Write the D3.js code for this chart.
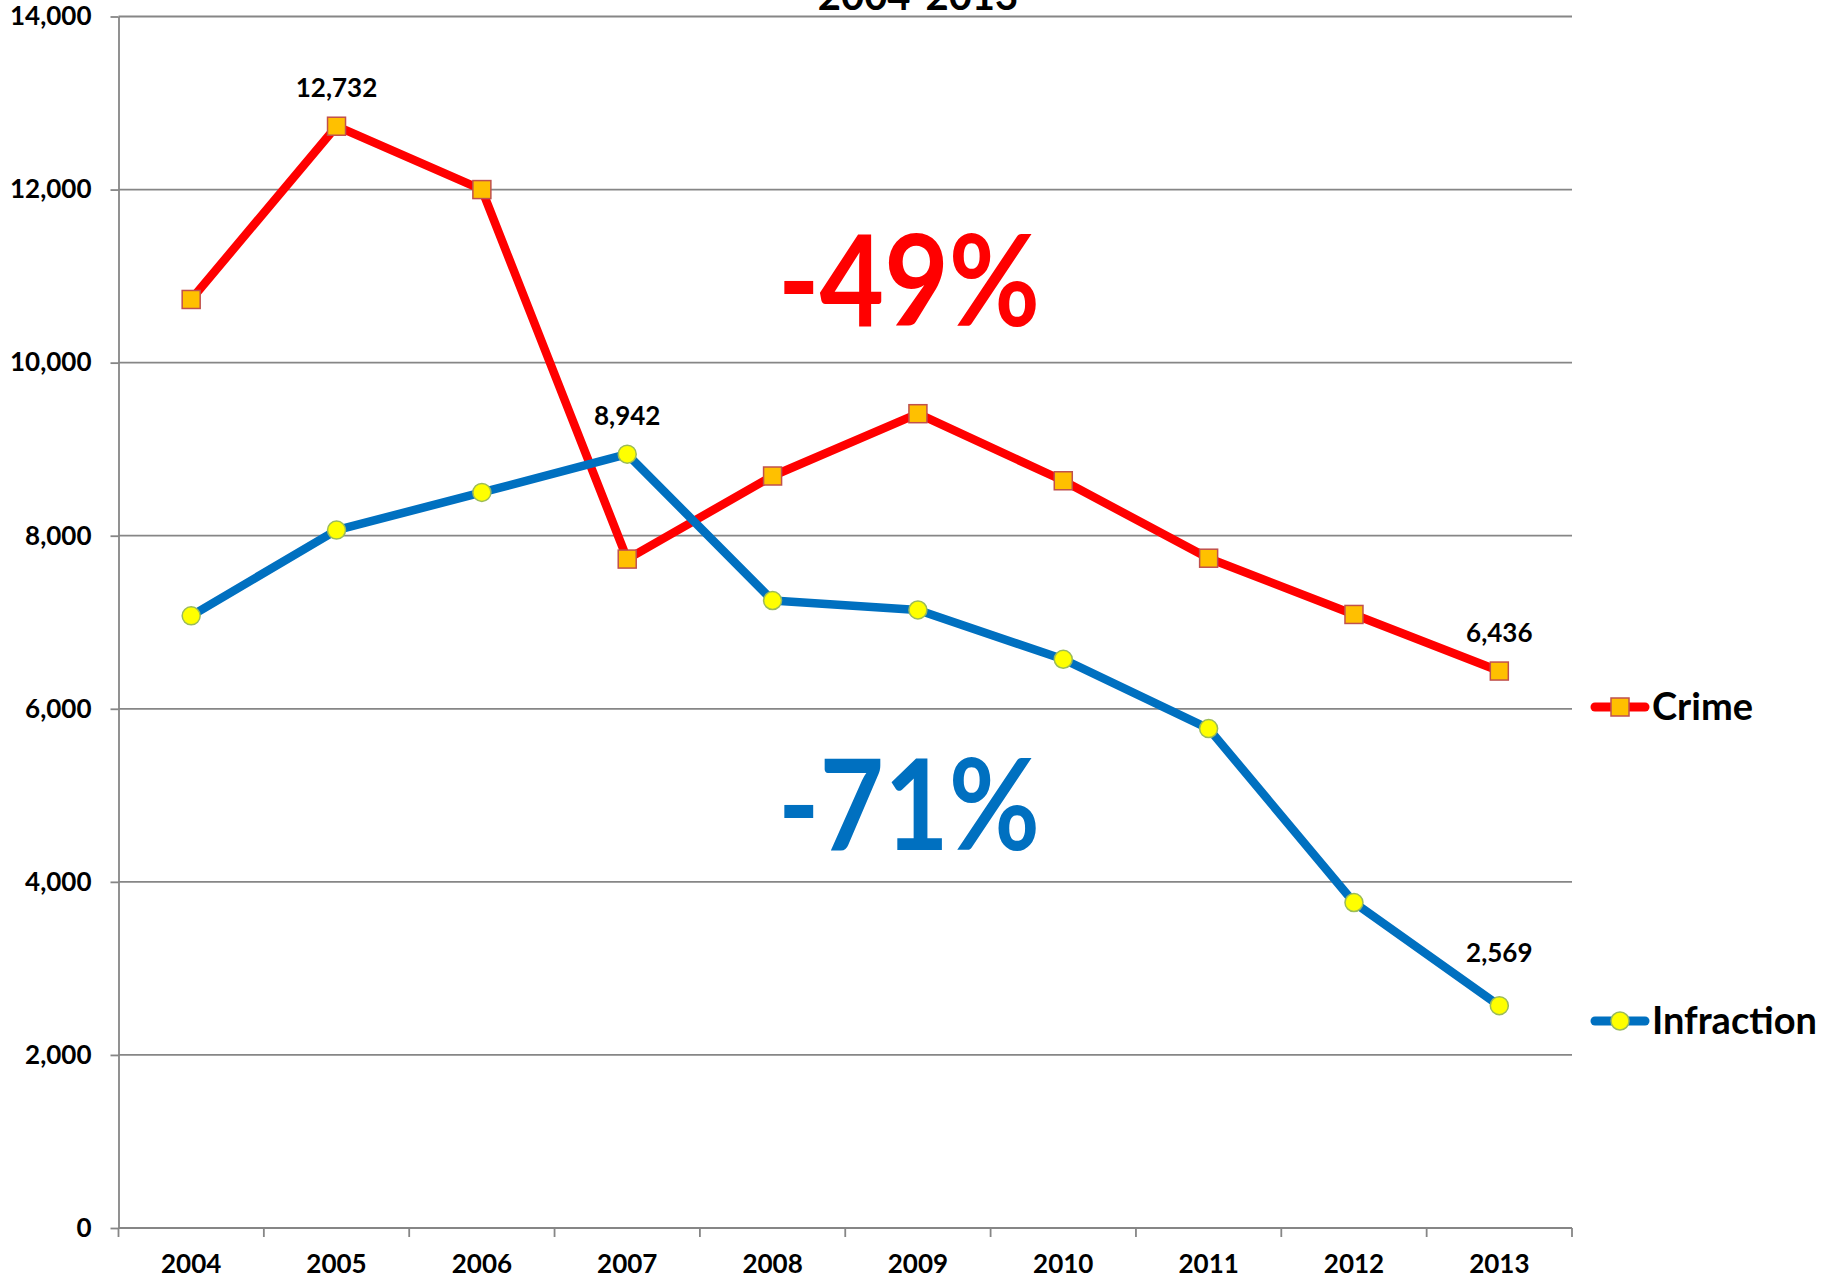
<!DOCTYPE html>
<html lang="en">
<head>
  <meta charset="UTF-8" />
  <title>Crime and Infraction 2004-2013</title>
  <script src="https://d3js.org/d3.v7.min.js"></script>
  <style>
    body { margin: 0; background: #fff; }
    svg { display: block; font-family: Lato, "Open Sans", sans-serif; font-weight: 700; }
    .grid line { stroke: #868686; stroke-width: 1.8; }
    .axis path, .axis line { stroke: #868686; stroke-width: 1.8; }
    .axis text { fill: #000; font-size: 26px; font-weight: 700; font-family: Lato, sans-serif; }
  </style>
</head>
<body>
  <svg id="chart" width="1842" height="1281"></svg>
  <script>
    const years = ["2004", "2005", "2006", "2007", "2008", "2009", "2010", "2011", "2012", "2013"];
    const crime = [10730, 12732, 12000, 7730, 8690, 9410, 8635, 7740, 7090, 6436];
    const infraction = [7074, 8065, 8500, 8942, 7251, 7142, 6572, 5771, 3761, 2569];
    const yTicks = [0, 2000, 4000, 6000, 8000, 10000, 12000, 14000];
    // which points get a value label
    const crimeLabels = ["2005", "2013"];
    const infractionLabels = ["2007", "2013"];

    const svg = d3.select("#chart");
    const plotLeft = 118.5, plotRight = 1572, plotTop = 16.5, plotBottom = 1228;

    const x = d3.scaleBand().domain(years).range([plotLeft, plotRight]);
    const y = d3.scaleLinear().domain([0, 14000]).range([plotBottom, plotTop]);
    const cx = d => x(d) + x.bandwidth() / 2;

    // gridlines
    svg.append("g").attr("class", "grid")
      .selectAll("line")
      .data(yTicks.filter(d => d > 0))
      .join("line")
      .attr("x1", plotLeft).attr("x2", plotRight)
      .attr("y1", d => y(d)).attr("y2", d => y(d));

    // y axis
    svg.append("g").attr("class", "axis")
      .attr("transform", `translate(${plotLeft},0)`)
      .call(d3.axisLeft(y).tickValues(yTicks).tickSize(8).tickSizeOuter(0).tickPadding(19)
        .tickFormat(d3.format(",")));

    // x axis: labels at centers, ticks at band boundaries
    const xAxis = svg.append("g").attr("class", "axis")
      .attr("transform", `translate(0,${plotBottom})`)
      .call(d3.axisBottom(x).tickSize(0).tickSizeOuter(0).tickPadding(27));
    xAxis.select(".domain").attr("d", `M${plotLeft},0H${plotRight}`);
    xAxis.selectAll(".bound")
      .data(years.map(d => x(d)).concat([plotRight]))
      .join("line")
      .attr("class", "bound")
      .attr("x1", d => d).attr("x2", d => d)
      .attr("y1", 0).attr("y2", 9);

    // title (cut off at top)
    svg.append("text")
      .attr("x", 918).attr("y", 10)
      .attr("text-anchor", "middle")
      .attr("font-size", 40)
      .text("2004-2013");

    const line = d3.line().x((d, i) => cx(years[i])).y(d => y(d));

    // crime
    svg.append("path").datum(crime)
      .attr("d", line).attr("fill", "none")
      .attr("stroke", "#FF0000").attr("stroke-width", 8.5)
      .attr("stroke-linejoin", "round");
    // infraction
    svg.append("path").datum(infraction)
      .attr("d", line).attr("fill", "none")
      .attr("stroke", "#0070C0").attr("stroke-width", 8.5)
      .attr("stroke-linejoin", "round");

    svg.append("g").selectAll("rect")
      .data(crime)
      .join("rect")
      .attr("x", (d, i) => cx(years[i]) - 9)
      .attr("y", d => y(d) - 9)
      .attr("width", 18).attr("height", 18)
      .attr("fill", "#FFC000").attr("stroke", "#C0504D").attr("stroke-width", 1.5);

    svg.append("g").selectAll("circle")
      .data(infraction)
      .join("circle")
      .attr("cx", (d, i) => cx(years[i]))
      .attr("cy", d => y(d))
      .attr("r", 9)
      .attr("fill", "#FFFF00").attr("stroke", "#9BBB59").attr("stroke-width", 1.5);

    // value labels (last infraction label sits a bit higher)
    const labels = years.map((yr, i) => ({ yr, v: crime[i], show: crimeLabels.includes(yr), gap: 29 }))
      .concat(years.map((yr, i) => ({ yr, v: infraction[i], show: infractionLabels.includes(yr), gap: yr === "2013" ? 44 : 29 })))
      .filter(d => d.show);
    svg.append("g").selectAll("text")
      .data(labels)
      .join("text")
      .attr("x", d => cx(d.yr))
      .attr("y", d => y(d.v) - d.gap)
      .attr("text-anchor", "middle")
      .attr("font-size", 26)
      .text(d => d3.format(",")(d.v));

    // big change annotations
    svg.append("text")
      .attr("x", 778).attr("y", 326)
      .attr("font-size", 126).attr("fill", "#FF0000")
      .attr("textLength", 262).attr("lengthAdjust", "spacingAndGlyphs")
      .text("-49%");
    svg.append("text")
      .attr("x", 778).attr("y", 850)
      .attr("font-size", 126).attr("fill", "#0070C0")
      .attr("textLength", 262).attr("lengthAdjust", "spacingAndGlyphs")
      .text("-71%");

    // legend
    const legend = [
      { name: "Crime", color: "#FF0000", y: 707, shape: "square" },
      { name: "Infraction", color: "#0070C0", y: 1021, shape: "circle" }
    ];
    const lg = svg.append("g").selectAll("g")
      .data(legend)
      .join("g")
      .attr("transform", d => `translate(0,${d.y})`);
    lg.append("line")
      .attr("x1", 1595).attr("x2", 1645)
      .attr("stroke", d => d.color).attr("stroke-width", 9).attr("stroke-linecap", "round");
    lg.filter(d => d.shape === "square").append("rect")
      .attr("x", 1611).attr("y", -9).attr("width", 18).attr("height", 18)
      .attr("fill", "#FFC000").attr("stroke", "#C0504D").attr("stroke-width", 1.5);
    lg.filter(d => d.shape === "circle").append("circle")
      .attr("cx", 1620).attr("r", 9)
      .attr("fill", "#FFFF00").attr("stroke", "#9BBB59").attr("stroke-width", 1.5);
    lg.append("text")
      .attr("x", 1652).attr("y", 13)
      .attr("font-size", 38)
      .text(d => d.name);
  </script>
</body>
</html>
